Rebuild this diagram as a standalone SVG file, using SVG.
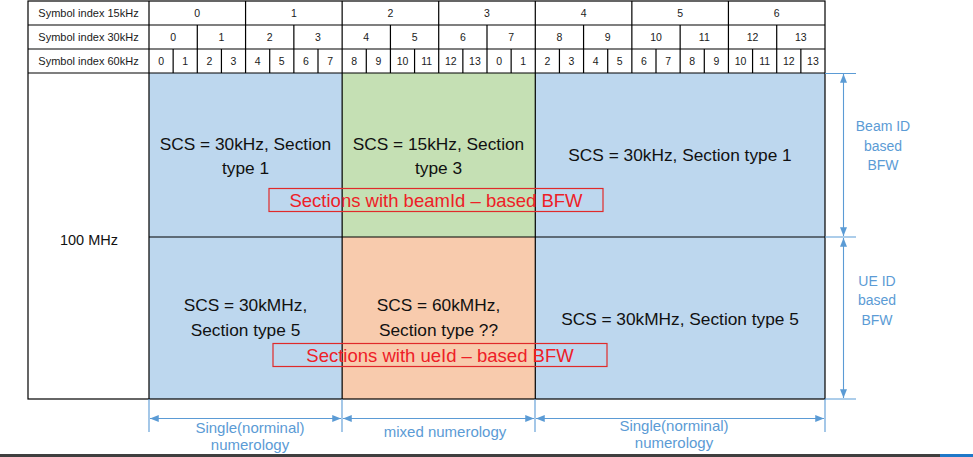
<svg xmlns="http://www.w3.org/2000/svg" width="973" height="457" viewBox="0 0 973 457">
<style>
.grid{stroke:#000;stroke-width:1.2;fill:none}
.hd{font-family:"Liberation Sans",Arial,sans-serif;font-size:10.5px;fill:#1a1a1a;text-anchor:middle}
.hl{font-family:"Liberation Sans",Arial,sans-serif;font-size:11px;fill:#1a1a1a;text-anchor:middle}
.main{font-family:"Liberation Sans",Arial,sans-serif;font-size:17.3px;fill:#111;text-anchor:middle}
.red{font-family:"Liberation Sans",Arial,sans-serif;font-size:18.5px;fill:#ee2027;text-anchor:middle}
.rbox{fill:none;stroke:#e02a2a;stroke-width:1.2}
.blue{font-family:"Liberation Sans",Arial,sans-serif;font-size:14px;fill:#5b9bd5;text-anchor:middle}
.blue2{font-family:"Liberation Sans",Arial,sans-serif;font-size:15px;fill:#5b9bd5;text-anchor:middle}
.bl{stroke:#5b9bd5;stroke-width:1.1;fill:none}
.arr{stroke:#5b9bd5;stroke-width:1.1;fill:none;marker-start:url(#ah);marker-end:url(#ah)}
</style>
<defs>
<marker id="ah" viewBox="0 0 10 8" refX="10" refY="4" markerWidth="9" markerHeight="7" markerUnits="userSpaceOnUse" orient="auto-start-reverse">
<path d="M0,0 L10,4 L0,8 Z" fill="#5b9bd5"/>
</marker>
</defs>
<rect width="973" height="457" fill="#fff"/>

<g id="regions">
<rect id="r-left" x="149" y="73" width="193" height="326" fill="#bdd7ee"/>
<rect id="r-mid-top" x="342" y="73" width="193" height="164" fill="#c5e0b4"/>
<rect id="r-mid-bot" x="342" y="237" width="193" height="162" fill="#f8cbad"/>
<rect id="r-right" x="535" y="73" width="290" height="326" fill="#bdd7ee"/>
</g>

<g id="table-grid" class="grid">
<rect x="28" y="1" width="797" height="398"/>
<path d="M28,25H825M28,49H825M28,73H825M149,237H825"/>
<path d="M149,1V399M342.14,1V399M535.29,1V399"/>
<path d="M245.57,1V73M438.71,1V73M631.86,1V73M728.43,1V73"/>
<path d="M197.29,25V73M293.86,25V73M390.43,25V73M487,25V73M583.57,25V73M680.14,25V73M776.71,25V73"/>
<path d="M173.14,49V73M221.43,49V73M269.71,49V73M318,49V73M366.29,49V73M414.57,49V73M462.86,49V73M511.14,49V73M559.43,49V73M607.71,49V73M656,49V73M704.29,49V73M752.57,49V73M800.86,49V73"/>
</g>

<g id="header-15k">
<text class="hl" x="88.5" y="17">Symbol index 15kHz</text>
<text class="hd" x="197.29" y="17">0</text><text class="hd" x="293.86" y="17">1</text><text class="hd" x="390.43" y="17">2</text><text class="hd" x="487" y="17">3</text><text class="hd" x="583.57" y="17">4</text><text class="hd" x="680.14" y="17">5</text><text class="hd" x="776.71" y="17">6</text>
</g>
<g id="header-30k">
<text class="hl" x="88.5" y="41">Symbol index 30kHz</text>
<text class="hd" x="173.14" y="41">0</text><text class="hd" x="221.43" y="41">1</text><text class="hd" x="269.71" y="41">2</text><text class="hd" x="318" y="41">3</text><text class="hd" x="366.29" y="41">4</text><text class="hd" x="414.57" y="41">5</text><text class="hd" x="462.86" y="41">6</text><text class="hd" x="511.14" y="41">7</text><text class="hd" x="559.43" y="41">8</text><text class="hd" x="607.71" y="41">9</text><text class="hd" x="656" y="41">10</text><text class="hd" x="704.29" y="41">11</text><text class="hd" x="752.57" y="41">12</text><text class="hd" x="800.86" y="41">13</text>
</g>
<g id="header-60k">
<text class="hl" x="88.5" y="65">Symbol index 60kHz</text>
<text class="hd" x="161.07" y="65">0</text><text class="hd" x="185.21" y="65">1</text><text class="hd" x="209.36" y="65">2</text><text class="hd" x="233.5" y="65">3</text><text class="hd" x="257.64" y="65">4</text><text class="hd" x="281.79" y="65">5</text><text class="hd" x="305.93" y="65">6</text><text class="hd" x="330.07" y="65">7</text><text class="hd" x="354.21" y="65">8</text><text class="hd" x="378.36" y="65">9</text><text class="hd" x="402.5" y="65">10</text><text class="hd" x="426.64" y="65">11</text><text class="hd" x="450.79" y="65">12</text><text class="hd" x="474.93" y="65">13</text><text class="hd" x="499.07" y="65">0</text><text class="hd" x="523.21" y="65">1</text><text class="hd" x="547.36" y="65">2</text><text class="hd" x="571.5" y="65">3</text><text class="hd" x="595.64" y="65">4</text><text class="hd" x="619.79" y="65">5</text><text class="hd" x="643.93" y="65">6</text><text class="hd" x="668.07" y="65">7</text><text class="hd" x="692.21" y="65">8</text><text class="hd" x="716.36" y="65">9</text><text class="hd" x="740.5" y="65">10</text><text class="hd" x="764.64" y="65">11</text><text class="hd" x="788.79" y="65">12</text><text class="hd" x="812.93" y="65">13</text>
</g>

<g id="label-100mhz">
<text x="89" y="245" font-family="Liberation Sans, Arial, sans-serif" font-size="14.5" fill="#111" text-anchor="middle">100 MHz</text>
</g>

<g id="cell-left-top">
<text class="main" x="245.5" y="150">SCS = 30kHz, Section</text>
<text class="main" x="245.5" y="174">type 1</text>
</g>
<g id="cell-mid-top">
<text class="main" x="438.5" y="150">SCS = 15kHz, Section</text>
<text class="main" x="438.5" y="174">type 3</text>
</g>
<g id="cell-right-top">
<text class="main" x="680" y="161">SCS = 30kHz, Section type 1</text>
</g>
<g id="cell-left-bot">
<text class="main" x="245.5" y="311">SCS = 30kMHz,</text>
<text class="main" x="245.5" y="336">Section type 5</text>
</g>
<g id="cell-mid-bot">
<text class="main" x="438.5" y="311">SCS = 60kMHz,</text>
<text class="main" x="438.5" y="336">Section type ??</text>
</g>
<g id="cell-right-bot">
<text class="main" x="680" y="325">SCS = 30kMHz, Section type 5</text>
</g>

<g id="box-beamid">
<rect class="rbox" x="269" y="188.5" width="334" height="23"/>
<text class="red" x="436" y="207">Sections with beamId – based BFW</text>
</g>
<g id="box-ueid">
<rect class="rbox" x="273" y="343.5" width="334" height="23"/>
<text class="red" x="440" y="362">Sections with ueId – based BFW</text>
</g>

<g id="connectors">
<path class="bl" d="M825,73.5H856M825,237H856M825,399H856"/>
<path class="arr" d="M843.5,74V236"/>
<path class="arr" d="M843.5,238V398"/>
<path class="bl" d="M149,399V432M342,399V432M535,399V432M825,399V432"/>
<path class="arr" d="M150,418.5H341"/>
<path class="arr" d="M343,418.5H534"/>
<path class="arr" d="M536,418.5H824"/>
</g>

<g id="label-beam">
<text class="blue" x="883" y="131">Beam ID</text>
<text class="blue" x="883" y="150.5">based</text>
<text class="blue" x="883" y="170">BFW</text>
</g>
<g id="label-ue">
<text class="blue" x="877" y="286">UE ID</text>
<text class="blue" x="877" y="305">based</text>
<text class="blue" x="877" y="325">BFW</text>
</g>
<g id="label-single-left">
<text class="blue2" x="250" y="433">Single(norminal)</text>
<text class="blue2" x="250" y="450">numerology</text>
</g>
<g id="label-mixed">
<text class="blue2" x="445" y="437">mixed numerology</text>
</g>
<g id="label-single-right">
<text class="blue2" x="674" y="431">Single(norminal)</text>
<text class="blue2" x="674" y="448">numerology</text>
</g>

<rect x="0" y="454" width="973" height="3" fill="#3f3f3f"/>
<rect x="940" y="454" width="33" height="3" fill="#1f78c8"/>
</svg>
